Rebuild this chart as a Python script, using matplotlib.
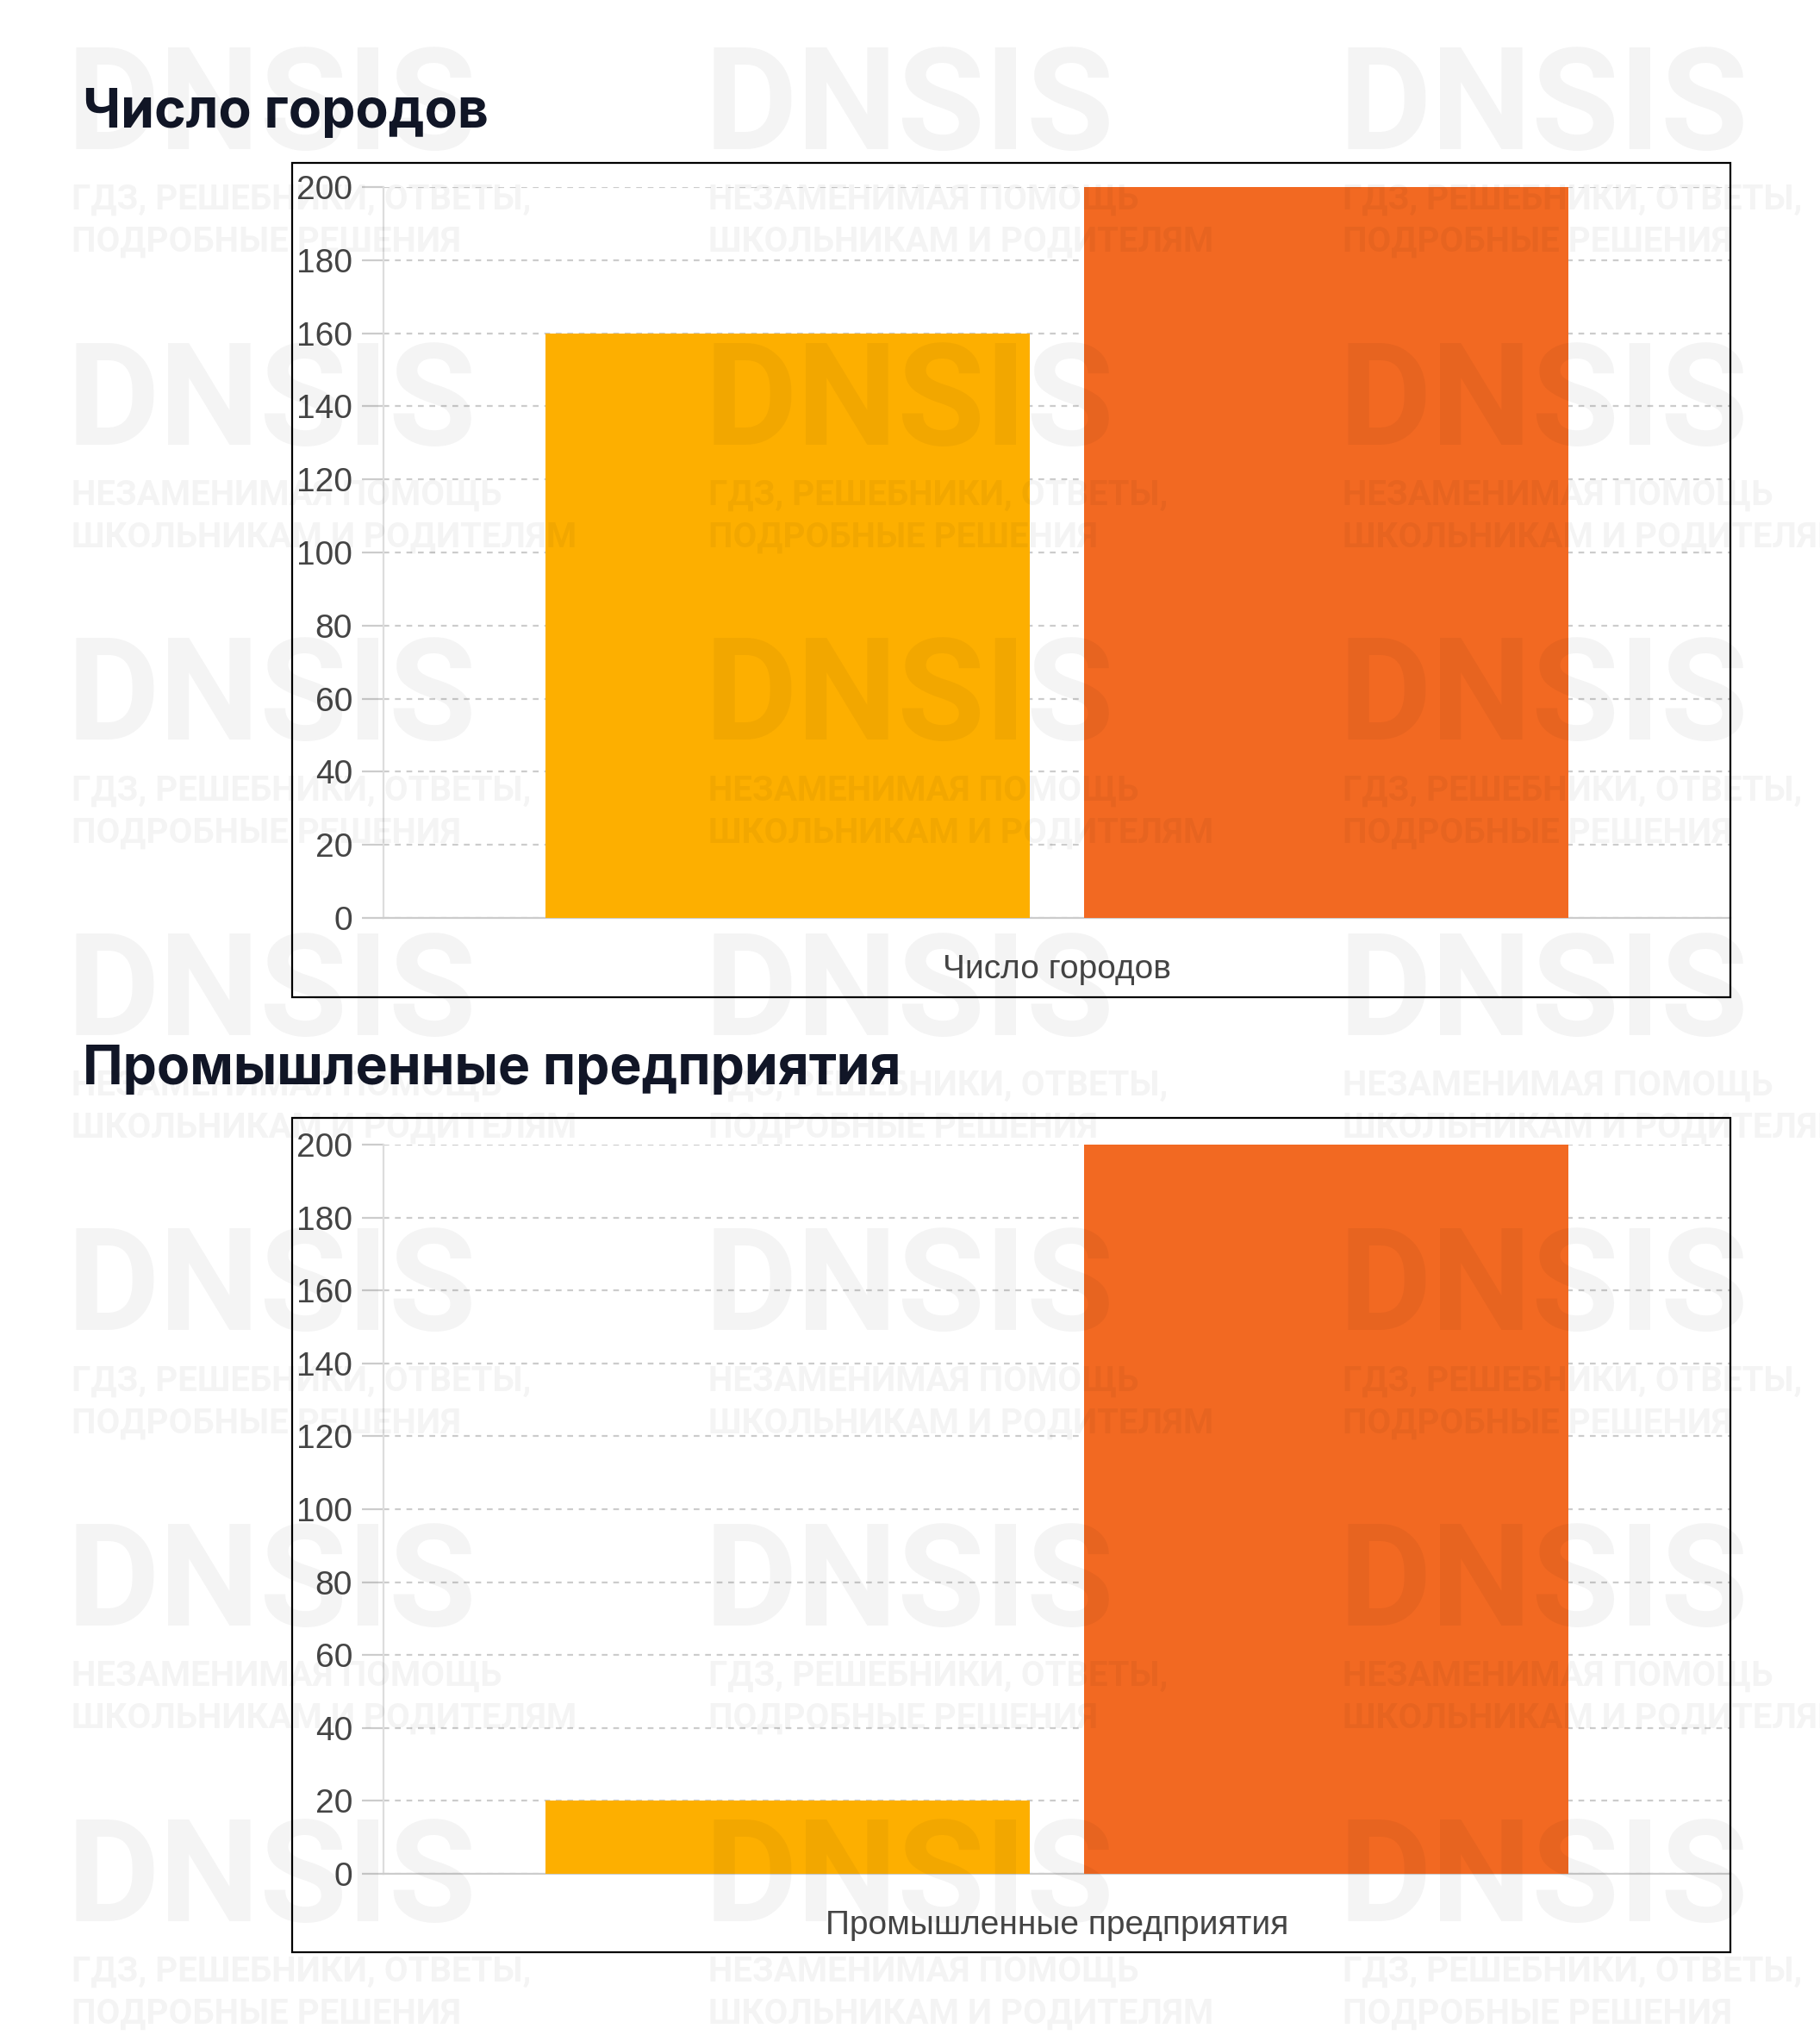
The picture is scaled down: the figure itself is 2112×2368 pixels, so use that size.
import matplotlib
matplotlib.use("Agg")
import matplotlib.pyplot as plt
from matplotlib.patches import Rectangle

# data
titles = ['Число городов', 'Промышленные предприятия']
series_a = [160, 20]
series_b = [200, 200]
bar_colors = ['#FDAF00', '#F26922']
y_ticks = [0, 20, 40, 60, 80, 100, 120, 140, 160, 180, 200]

wm_lines_a = ['ГДЗ, РЕШЕБНИКИ, ОТВЕТЫ,', 'ПОДРОБНЫЕ РЕШЕНИЯ']
wm_lines_b = ['НЕЗАМЕНИМАЯ ПОМОЩЬ', 'ШКОЛЬНИКАМ И РОДИТЕЛЯМ']

W, H = 2112, 2368
DPI = 200
fig = plt.figure(figsize=(W / DPI, H / DPI), dpi=DPI)
fig.patch.set_facecolor('white')

tick_font = ['Liberation Sans Narrow', 'Liberation Sans', 'DejaVu Sans']
title_font = ['Inter', 'DejaVu Sans']

# pixel layout (from top) for each panel: title baseline, box top/bottom, axes top/bottom
panels = [
    dict(title_y=148, box_top=189, box_bot=1157, ax_top=217, ax_bot=1065),
    dict(title_y=1258, box_top=1297, box_bot=2265, ax_top=1328, ax_bot=2174),
]
box_left, box_right = 339, 2008
ax_left, ax_right = 445, 2008

for i, p in enumerate(panels):
    fig.text(96 / W, 1 - p['title_y'] / H, titles[i], family=title_font,
             fontsize=22.5, fontweight='bold', color='#111627', va='baseline', ha='left')
    fig.add_artist(Rectangle((box_left / W, 1 - p['box_bot'] / H),
                             (box_right - box_left) / W, (p['box_bot'] - p['box_top']) / H,
                             transform=fig.transFigure, fill=False, edgecolor='black', lw=0.8))

    ax = fig.add_axes([ax_left / W, 1 - p['ax_bot'] / H,
                       (ax_right - ax_left) / W, (p['ax_bot'] - p['ax_top']) / H])
    ax.bar([-0.2], [series_a[i]], width=0.36, color=bar_colors[0], zorder=3)
    ax.bar([0.2], [series_b[i]], width=0.36, color=bar_colors[1], zorder=3)
    ax.set_xlim(-0.5, 0.5)
    ax.set_ylim(0, 200)
    ax.set_yticks(y_ticks)
    ax.set_yticklabels([str(t) for t in y_ticks], family=tick_font, fontsize=14, color='#444444')
    ax.set_xticks([0])
    ax.set_xticklabels([titles[i]], family=tick_font, fontsize=14, color='#444444')
    ax.tick_params(axis='x', length=0, pad=15)
    ax.tick_params(axis='y', length=9, width=0.8, color='#cccccc', pad=4)
    ax.yaxis.grid(True, linestyle=(0, (3, 3)), color='#cccccc', linewidth=0.8, zorder=1)
    for side in ['top', 'right']:
        ax.spines[side].set_visible(False)
    ax.spines['left'].set_color('#dddddd')
    ax.spines['left'].set_linewidth(0.8)
    ax.spines['bottom'].set_color('#cccccc')
    ax.spines['bottom'].set_linewidth(0.8)
    ax.set_facecolor('none')

# watermark grid
col_x = [83, 822, 1558]
row_y0, row_step = 116, 342.6
wm_font = ['Roboto', 'DejaVu Sans']
for r in range(7):
    cy = row_y0 + r * row_step
    for c, x in enumerate(col_x):
        lines = wm_lines_a if (r + c) % 2 == 0 else wm_lines_b
        fig.text((x - 5) / W, 1 - (cy + 57) / H, 'DNSIS', family=wm_font,
                 fontsize=59.5, fontweight='bold', color='black', alpha=0.045,
                 ha='left', va='baseline', zorder=10)
        fig.text(x / W, 1 - (cy + 127) / H, lines[0], family=wm_font,
                 fontsize=14.5, fontweight='bold', color='black', alpha=0.045,
                 ha='left', va='baseline', zorder=10)
        fig.text(x / W, 1 - (cy + 176) / H, lines[1], family=wm_font,
                 fontsize=14.5, fontweight='bold', color='black', alpha=0.045,
                 ha='left', va='baseline', zorder=10)

fig.savefig('out.png', dpi=DPI, facecolor='white')
